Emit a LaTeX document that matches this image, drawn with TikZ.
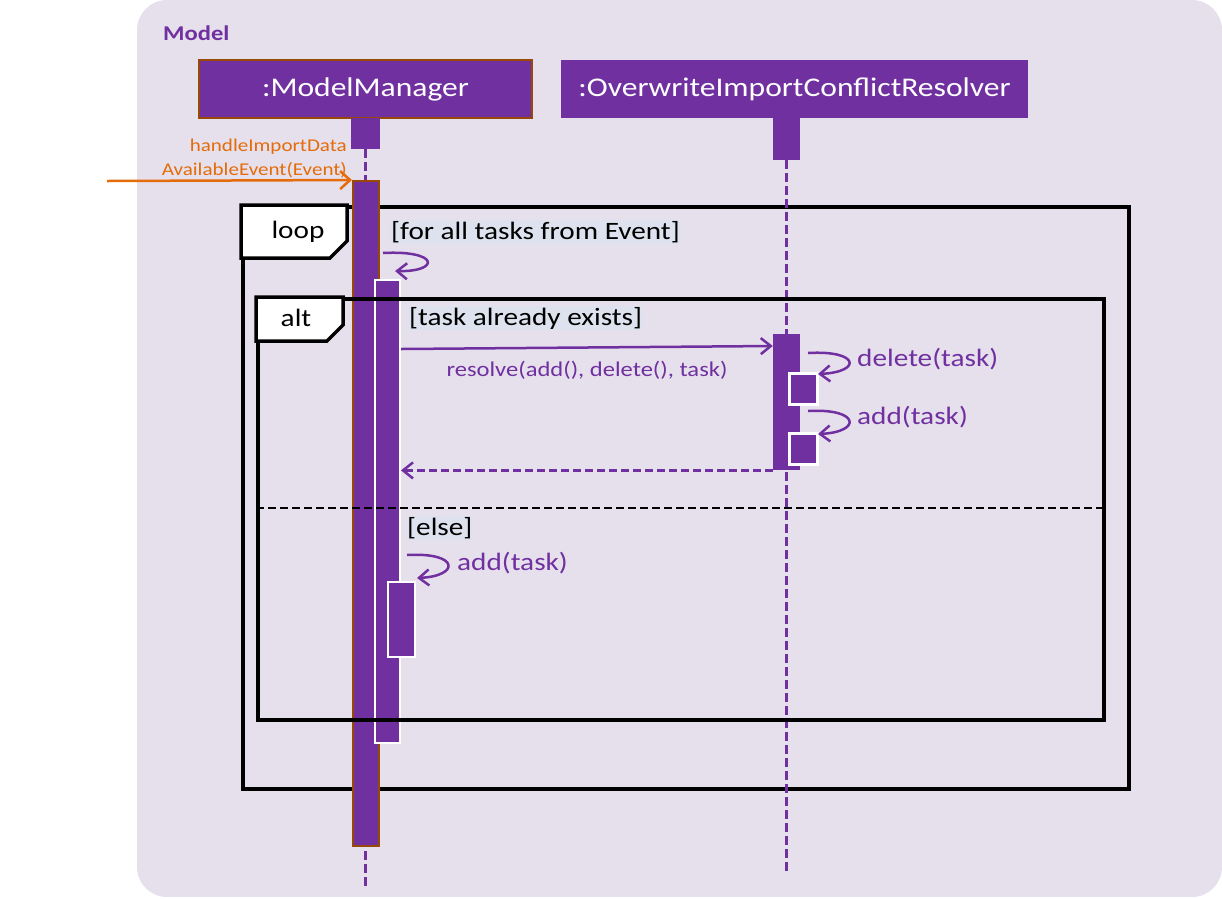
\documentclass[tikz,border=0pt]{standalone}
\usepackage{fontspec}
\setmainfont{Carlito}
\usetikzlibrary{arrows.meta}
\definecolor{bgc}{RGB}{230,224,236}
\definecolor{purp}{RGB}{112,48,160}
\definecolor{brn}{RGB}{152,72,7}
\definecolor{orng}{RGB}{228,108,10}
\definecolor{hl}{RGB}{222,226,238}
\newcommand\hstr[1]{\scalebox{1.17}[1]{#1}}
\begin{document}
\begin{tikzpicture}[x=1pt,y=-1pt,
  head/.style={fill=purp,text=white,inner sep=0pt,font=\fontsize{27}{29}\selectfont},
  act/.style={fill=purp,inner sep=0pt},
  lifeline/.style={purp,line width=2.5pt,dash pattern=on 9pt off 4pt},
  frm/.style={draw=black,line width=3.5pt,inner sep=0pt},
  tabtxt/.style={inner sep=0pt,font=\fontsize{25}{27}\selectfont},
  guard/.style={inner sep=1pt,fill=hl,anchor=west,font=\fontsize{25}{27}\selectfont},
  msg/.style={inner sep=0pt,text=purp,font=\fontsize{25}{27}\selectfont},
  smallmsg/.style={inner sep=0pt,text=purp,font=\fontsize{21}{23}\selectfont},
  call/.style={purp,line width=2.5pt,-{Straight Barb[length=10pt,width=16pt]}},
]
\useasboundingbox (0,0) rectangle (1222,898);
\fill[bgc,rounded corners=30pt] (137,0) rectangle (1222,897);
\node[anchor=west,text=purp,inner sep=0pt,font=\fontsize{21}{23}\selectfont\bfseries] (model) at (163,33) {\hstr{Model}};

% loop frame (behind bars)
\node[frm,minimum width=886pt,minimum height=582pt,anchor=north west] (loop) at (241,205) {};
\draw[frm,fill=white,line join=miter] (loop.north west) -- ++(106,0) -- ++(0,36) -- ++(-17,17) -- ++(-89,0) -- cycle;
\node[tabtxt] (looptxt) at (298,232) {\hstr{loop}};

% heads
\node[head,draw=brn,line width=2pt,minimum width=333pt,minimum height=58pt] (mm) at (365.5,89) {\hstr{:ModelManager}};
\node[head,minimum width=467pt,minimum height=58pt] (ov) at (794.5,89) {\hstr{:OverwriteImportConflictResolver}};
\node[act,minimum width=29pt,minimum height=31pt,anchor=north] (mmtop) at (365.5,118) {};
\node[act,minimum width=27pt,minimum height=42pt,anchor=north] (ovtop) at (786.5,118) {};

% lifelines
\coordinate (mmend) at (365.5,887);
\coordinate (ovend) at (786.5,873);
\draw[lifeline] (mmtop.south) -- (mmend);
\draw[lifeline] (ovtop.south) -- (ovend);

% activations
\node[act,draw=brn,line width=2pt,minimum width=26pt,minimum height=665pt,anchor=north] (mmact) at (366,180) {};
\node[act,draw=white,line width=2pt,minimum width=25pt,minimum height=463pt,anchor=north west] (act2) at (374,279) {};
\node[act,minimum width=27pt,minimum height=136pt,anchor=north] (ovact) at (786.5,334) {};
\node[act,draw=white,line width=2.5pt,minimum width=28pt,minimum height=31pt,anchor=north west] (del) at (788,372) {};
\node[act,draw=white,line width=2.5pt,minimum width=28pt,minimum height=31pt,anchor=north west] (add) at (788,432) {};
\node[act,draw=white,line width=2pt,minimum width=27pt,minimum height=75pt,anchor=north west] (act3) at (387,581) {};

% alt frame (over bars)
\node[frm,minimum width=846pt,minimum height=421pt,anchor=north west] (alt) at (256,297) {};
\draw[frm,fill=white,line join=miter] (alt.north west) -- ++(87,0) -- ++(0,28) -- ++(-16,16) -- ++(-71,0) -- cycle;
\node[tabtxt] (alttxt) at (296,318) {\hstr{alt}};
\coordinate (sepL) at (256,508);
\coordinate (sepR) at (1102,508);
\draw[black,line width=2.5pt,dash pattern=on 8pt off 4pt] (sepL) -- (sepR);

% guards
\node[guard] (g1) at (390,232) {\hstr{[for all tasks from Event]}};
\node[guard] (g2) at (408,318) {\hstr{[task already exists]}};
\node[guard] (g3) at (406,528) {\hstr{[else]}};

% incoming message
\coordinate (in) at (107,181);
\draw[orng,line width=2.5pt,-{Straight Barb[length=10pt,width=18pt]}] (in) -- (mmact.north west);
\node[anchor=east,inner sep=0pt,text=orng,font=\fontsize{18}{20}\selectfont] (h1) at (347,147) {\hstr{handleImportData}};
\node[anchor=east,inner sep=0pt,text=orng,font=\fontsize{18}{20}\selectfont] (h2) at (347,170) {\hstr{AvailableEvent(Event)}};

% self call loop
\coordinate (s1a) at (383,253);
\coordinate (s1b) at (395,271);
\draw[call] (s1a) .. controls (440,250) and (440,272) .. (s1b);

% resolve
\coordinate (r1) at (401,349);
\draw[purp,line width=2.5pt,-{Straight Barb[length=10pt,width=16pt]}] (r1) -- (ovact.north west |- 0,346);
\node[smallmsg] (resl) at (587,370) {\hstr{resolve(add(), delete(), task)}};

% delete / add
\coordinate (d1) at (808,353);
\coordinate (d2) at (818,374);
\draw[call] (d1) .. controls (860,350) and (862,372) .. (d2);
\node[msg,anchor=west] (delt) at (857,359) {\hstr{delete(task)}};
\coordinate (a1) at (808,411);
\coordinate (a2) at (818,434);
\draw[call] (a1) .. controls (860,408) and (862,432) .. (a2);
\node[msg,anchor=west] (addt) at (857,417) {\hstr{add(task)}};

% return
\draw[purp,line width=2.5pt,dash pattern=on 8pt off 4pt,-{Straight Barb[length=10pt,width=16pt]}] (ovact.south west) -- (act2.east |- ovact.south west);

% else add
\coordinate (e1) at (407,555);
\coordinate (e2) at (417,578);
\draw[call] (e1) .. controls (460,552) and (460,576) .. (e2);
\node[msg,anchor=west] (addt2) at (457,563) {\hstr{add(task)}};
\end{tikzpicture}
\end{document}
